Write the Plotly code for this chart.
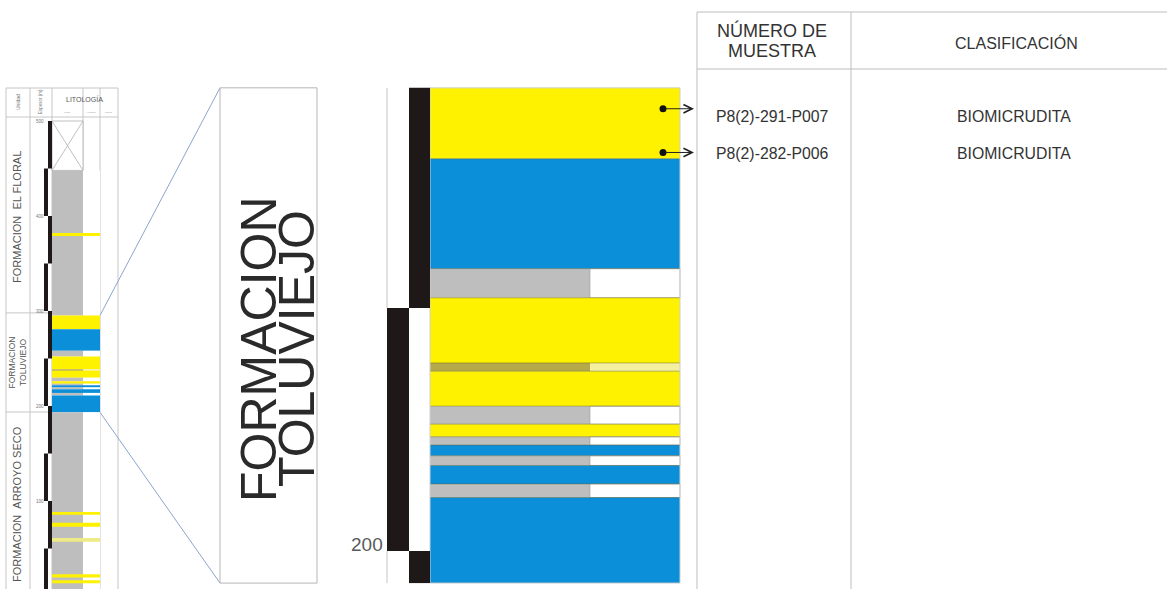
import plotly.graph_objects as go

W, H = 1167, 589

# ---------------- data ----------------
# Formación El Floral (overview column): top / base in metres, lithology
floral_top = [500.0, 448.0, 382.0]
floral_base = [448.0, 295.3, 379.0]
floral_lith = ["sin_dato", "lutita", "arenisca"]

# Formación Toluviejo (shown both in the overview and enlarged)
tol_top = [295.3, 280.7, 258.1, 252.1, 238.7, 237.0, 229.8, 226.1, 223.5, 221.8, 219.6, 217.6, 213.8, 211.0]
tol_base = [280.7, 258.1, 252.1, 238.7, 237.0, 229.8, 226.1, 223.5, 221.8, 219.6, 217.6, 213.8, 211.0, 193.4]
tol_lith = ["arenisca", "caliza", "lutita", "arenisca", "limolita", "arenisca", "lutita",
            "arenisca", "lutita", "caliza", "lutita", "caliza", "lutita", "caliza"]

# Formación Arroyo Seco (overview column)
arr_top = [193.4, 88.5, 77.0, 61.0, 23.0, 16.5]
arr_base = [0.0, 85.5, 73.0, 57.0, 19.5, 13.5]
arr_lith = ["lutita", "arenisca", "arenisca", "arenisca_fina", "arenisca", "arenisca"]

# Stratigraphic units
unit_names = ["FORMACION\u00a0\u00a0EL FLORAL", "FORMACION<br>TOLUVIEJO", "FORMACION\u00a0\u00a0ARROYO SECO"]
unit_top = [500.0, 298.0, 193.7]
unit_base = [298.0, 193.7, 0.0]
unit_font = [11, 8.5, 11]

# Thickness scale
scale_marks = [0, 50, 100, 150, 200, 250, 300, 350, 400, 450, 500]
ov_ticks = [100, 200, 300, 400, 500]
dt_ticks = [200]

# Samples
sample_id = ["P8(2)-291-P007", "P8(2)-282-P006"]
sample_depth = [291.0, 282.0]
sample_class = ["BIOMICRUDITA", "BIOMICRUDITA"]

# ---------------- styles ----------------
COL = {
    "arenisca": "#fff200",
    "caliza": "#0b8fd9",
    "lutita": "#bebebe",
    "limolita": "#b5a94a",
    "limolita_r": "#f4f0a0",
    "arenisca_fina": "#eeea86",
}
BAR = "#1e1818"
FRAME = "#c6c6c6"
LINK = "#8aa6cc"
TXT = "#333333"

# vertical scales (pixel row = offset - scale * metres)
OV_PX0, OV_SCALE = 596.0, 0.95
DT_REF_M, DT_REF_PX, DT_SCALE = 200.0, 551.0, 4.86
ov_range = [(OV_PX0 - H) / OV_SCALE, OV_PX0 / OV_SCALE]
dt_range = [DT_REF_M + (DT_REF_PX - H) / DT_SCALE, DT_REF_M + DT_REF_PX / DT_SCALE]


def ov_row(m):
    return OV_PX0 - OV_SCALE * m


def dt_row(m):
    return DT_REF_PX - DT_SCALE * (m - DT_REF_M)


def pxx(v):
    return v / W


def pxy(v):
    return 1 - v / H


fig = go.Figure()


def rect(x0, x1, y0, y1, yref, fill, line=None):
    fig.add_shape(type="rect", xref="x", yref=yref, x0=x0, x1=x1, y0=y0, y1=y1,
                  fillcolor=fill, line=line if line else dict(width=0), layer="below")


def seg(x0, y0, x1, y1, xref, yref, color, width=1):
    fig.add_shape(type="line", xref=xref, yref=yref, x0=x0, y0=y0, x1=x1, y1=y1,
                  line=dict(color=color, width=width), layer="below")


def note(x, y, text, size, color, xref="paper", yref="paper", angle=0, family=None, **kw):
    f = dict(size=size, color=color)
    if family:
        f["family"] = family
    fig.add_annotation(x=x, y=y, xref=xref, yref=yref, text=text, textangle=angle,
                       showarrow=False, font=f,
                       xanchor=kw.pop("xanchor", "center"), yanchor=kw.pop("yanchor", "middle"), **kw)


def draw_layers(tops, bases, liths, yref, x0, xg, xf, outline):
    for t, b, l in zip(tops, bases, liths):
        if l in ("arenisca", "caliza", "arenisca_fina"):
            rect(x0, xf, b, t, yref, COL[l])
        elif l == "lutita":
            rect(x0, xg, b, t, yref, COL["lutita"])
            rect(xg, xf, b, t, yref, "white",
                 dict(color="rgba(150,150,150,0.55)", width=1) if outline else None)
        elif l == "limolita":
            rect(x0, xg, b, t, yref, COL["limolita"])
            rect(xg, xf, b, t, yref, COL["limolita_r"])
        elif l == "sin_dato":
            rect(x0, xg, b, t, yref, "white", dict(color="#b0b0b0", width=0.8))
            seg(x0, t, xg, b, "x", yref, "#b0b0b0", 0.8)
            seg(x0, b, xg, t, "x", yref, "#b0b0b0", 0.8)


def draw_scale(yref, top, bottom, left, right, ghost_x=None):
    for lo, hi in zip(scale_marks[:-1], scale_marks[1:]):
        a, b = max(lo, bottom), min(hi, top)
        if b <= a:
            continue
        on_right = (hi // 50) % 2 == 0
        pos = right if on_right else left
        rect(pos[0], pos[1], a, b, yref, BAR)
        if ghost_x is not None and on_right:
            seg(ghost_x, a, ghost_x, b, "x", yref, "#c4c4c4", 1)


# ---------------- overview column ----------------
OV_L0, OV_G, OV_F, OV_E = 52, 83, 100, 118
for xv in [6, 30, 52, OV_G, OV_F, OV_E]:
    fig.add_shape(type="line", xref="paper", yref="paper", x0=pxx(xv), x1=pxx(xv),
                  y0=pxy(88), y1=0, line=dict(color=FRAME, width=1), layer="below")
for yv in [88, 117]:
    fig.add_shape(type="line", xref="paper", yref="paper", x0=pxx(6), x1=pxx(OV_E),
                  y0=pxy(yv), y1=pxy(yv), line=dict(color=FRAME, width=1), layer="below")
for m in unit_base[:-1]:
    seg(6, m, 52, m, "x", "y", FRAME, 1)

draw_layers(floral_top, floral_base, floral_lith, "y", OV_L0, OV_G, OV_F, False)
draw_layers(tol_top, tol_base, tol_lith, "y", OV_L0, OV_G, OV_F, False)
draw_layers(arr_top, arr_base, arr_lith, "y", OV_L0, OV_G, OV_F, False)
draw_scale("y", 500.0, 0.0, (44, 48), (48, 52))

for v in ov_ticks:
    note(39.5, v, str(v), 4.5, "#777", xref="x", yref="y")

for name, t, b, fs in zip(unit_names, unit_top, unit_base, unit_font):
    note(17, (t + b) / 2, name, fs, "#555", xref="x", yref="y", angle=-90)

note(pxx(18), pxy(102), "Unidad", 5, "#777", angle=-90)
note(pxx(41), pxy(102), "Espesor (m)", 4.5, "#777", angle=-90)
note(pxx(85), pxy(99), "LITOLOGÍA", 7, "#555")
for xv, lab in zip([67, 91, 109], ["Lutita", "Arenisca", "Caliza"]):
    note(pxx(xv), pxy(112.5), lab, 2.5, "#999")

# ---------------- zoom connectors and Toluviejo label box ----------------
BOX_L, BOX_R = 220, 317
for m_ov in [tol_top[0], tol_base[-1]]:
    fig.add_shape(type="line", xref="paper", yref="paper",
                  x0=pxx(OV_F), y0=pxy(ov_row(m_ov)), x1=pxx(BOX_L), y1=pxy(dt_row(m_ov)),
                  line=dict(color=LINK, width=1), layer="below")
rect(BOX_L, BOX_R, tol_base[-1], tol_top[0], "y2", "rgba(0,0,0,0)", dict(color="#b5b5b5", width=1))
for xv, word in [(259, "FORMACION"), (297, "TOLUVIEJO")]:
    note(pxx(xv), pxy(349), word, 50, "#2a2a2a", angle=-90, family="Liberation Sans, Arial")

# ---------------- detailed Toluviejo column ----------------
DT_L0, DT_G, DT_F = 430, 590, 680
draw_layers(tol_top, tol_base, tol_lith, "y2", DT_L0, DT_G, DT_F, True)
for m in tol_base[:-1]:
    seg(DT_L0, m, DT_F, m, "x", "y2", "rgba(95,95,50,0.45)", 1)
rect(DT_L0, DT_F, tol_base[-1], tol_top[0], "y2", "rgba(0,0,0,0)", dict(color="#cfcfcf", width=1))
draw_scale("y2", tol_top[0], tol_base[-1], (387, 409), (409, 430), ghost_x=387)
for v in dt_ticks:
    note(385, v, str(v), 19, "#5a5a5a", xref="x", yref="y2", xanchor="right", yshift=7)

# sample points and arrows
fig.add_trace(go.Scatter(x=[663] * len(sample_depth), y=sample_depth, xaxis="x", yaxis="y2",
                         mode="markers", marker=dict(size=7, color="#111"), hoverinfo="skip",
                         showlegend=False))
for d in sample_depth:
    fig.add_annotation(x=694, y=d, xref="x", yref="y2", ax=664, ay=d, axref="x", ayref="y2",
                       text="", showarrow=True, arrowhead=5, arrowsize=1.7, arrowwidth=1,
                       arrowcolor="#222")

# ---------------- sample table ----------------
TAB_L, TAB_M = 697, 851
for xv in [TAB_L, TAB_M]:
    fig.add_shape(type="line", xref="paper", yref="paper", x0=pxx(xv), x1=pxx(xv),
                  y0=pxy(12), y1=0, line=dict(color="#bdbdbd", width=1), layer="below")
for yv in [12, 69]:
    fig.add_shape(type="line", xref="paper", yref="paper", x0=pxx(TAB_L), x1=1,
                  y0=pxy(yv), y1=pxy(yv), line=dict(color="#bdbdbd", width=1), layer="below")

SANS = "Liberation Sans, Arial"
note(pxx(772), pxy(30), "NÚMERO DE", 18, TXT, family=SANS)
note(pxx(772), pxy(51), "MUESTRA", 18, TXT, family=SANS)
note(pxx(1017), pxy(43), "CLASIFICACIÓN", 16, TXT, family=SANS)
for i, (sid, cls) in enumerate(zip(sample_id, sample_class)):
    yv = 117 + 36.5 * i
    note(pxx(772), pxy(yv), sid, 15.8, TXT, family=SANS)
    note(pxx(1014), pxy(yv), cls, 15.8, TXT, family=SANS)

# invisible anchor for the overview axes
fig.add_trace(go.Scatter(x=[None], y=[None], xaxis="x", yaxis="y", showlegend=False))

fig.update_layout(
    width=W, height=H, margin=dict(l=0, r=0, t=0, b=0),
    paper_bgcolor="white", plot_bgcolor="white",
    font=dict(family="Liberation Sans, Arial"),
    xaxis=dict(domain=[0, 1], range=[0, W], visible=False, fixedrange=True),
    yaxis=dict(domain=[0, 1], range=ov_range, visible=False, fixedrange=True),
    yaxis2=dict(domain=[0, 1], range=dt_range, visible=False, overlaying="y", fixedrange=True),
    showlegend=False,
)

fig.write_html("out.html")
